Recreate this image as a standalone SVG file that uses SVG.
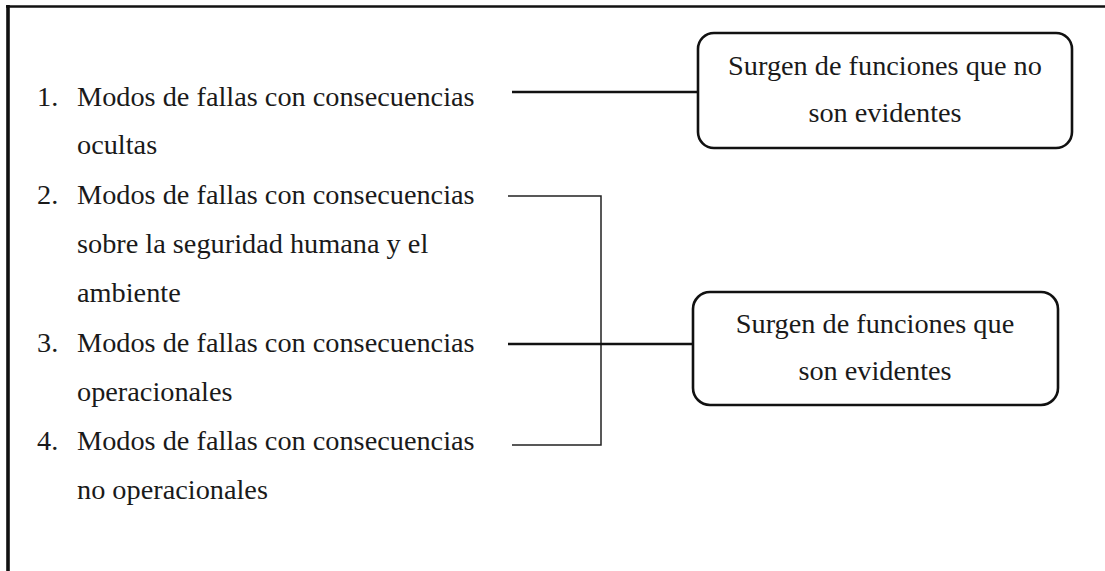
<svg xmlns="http://www.w3.org/2000/svg" width="1105" height="571" viewBox="0 0 1105 571">
  <style>
    .txt { font-family: "Liberation Serif", "Times New Roman", serif; font-size: 28.3px; fill: #1a1a1a; }
    .mid { text-anchor: middle; }
    .box { fill: #ffffff; stroke: #111111; stroke-width: 2.6; }
    .thick { stroke: #111111; stroke-width: 2.6; fill: none; }
    .thin { stroke: #222222; stroke-width: 1.5; fill: none; }
  </style>

  <rect x="0" y="0" width="1105" height="571" fill="#ffffff"/>

  <!-- frame: left and top rules -->
  <g id="frame">
    <line x1="8" y1="5" x2="8" y2="571" stroke="#111111" stroke-width="3.6"/>
    <line x1="6" y1="6.5" x2="1105" y2="6.5" stroke="#111111" stroke-width="2.6"/>
  </g>

  <!-- numbered list of failure modes -->
  <g id="list">
    <text class="txt" x="37" y="106">1.</text>
    <text class="txt" x="77" y="106">Modos de fallas con consecuencias</text>
    <text class="txt" x="77" y="154">ocultas</text>

    <text class="txt" x="37" y="204">2.</text>
    <text class="txt" x="77" y="204">Modos de fallas con consecuencias</text>
    <text class="txt" x="77" y="253">sobre la seguridad humana y el</text>
    <text class="txt" x="77" y="302">ambiente</text>

    <text class="txt" x="37" y="352">3.</text>
    <text class="txt" x="77" y="352">Modos de fallas con consecuencias</text>
    <text class="txt" x="77" y="401">operacionales</text>

    <text class="txt" x="37" y="450">4.</text>
    <text class="txt" x="77" y="450">Modos de fallas con consecuencias</text>
    <text class="txt" x="77" y="499">no operacionales</text>
  </g>

  <!-- connectors -->
  <g id="connectors">
    <line class="thick" x1="512" y1="92" x2="698" y2="92"/>
    <polyline class="thin" points="508,196 601,196 601,445 512,445"/>
    <line class="thick" x1="508" y1="344" x2="693" y2="344"/>
  </g>

  <g id="hidden-functions">
    <rect class="box" x="698" y="33" width="374" height="115" rx="16" ry="16"/>
    <text class="txt mid" x="885" y="75">Surgen de funciones que no</text>
    <text class="txt mid" x="885" y="122">son evidentes</text>
  </g>

  <g id="evident-functions">
    <rect class="box" x="693" y="292" width="365" height="113" rx="17" ry="17"/>
    <text class="txt mid" x="875" y="333">Surgen de funciones que</text>
    <text class="txt mid" x="875" y="380">son evidentes</text>
  </g>
</svg>
